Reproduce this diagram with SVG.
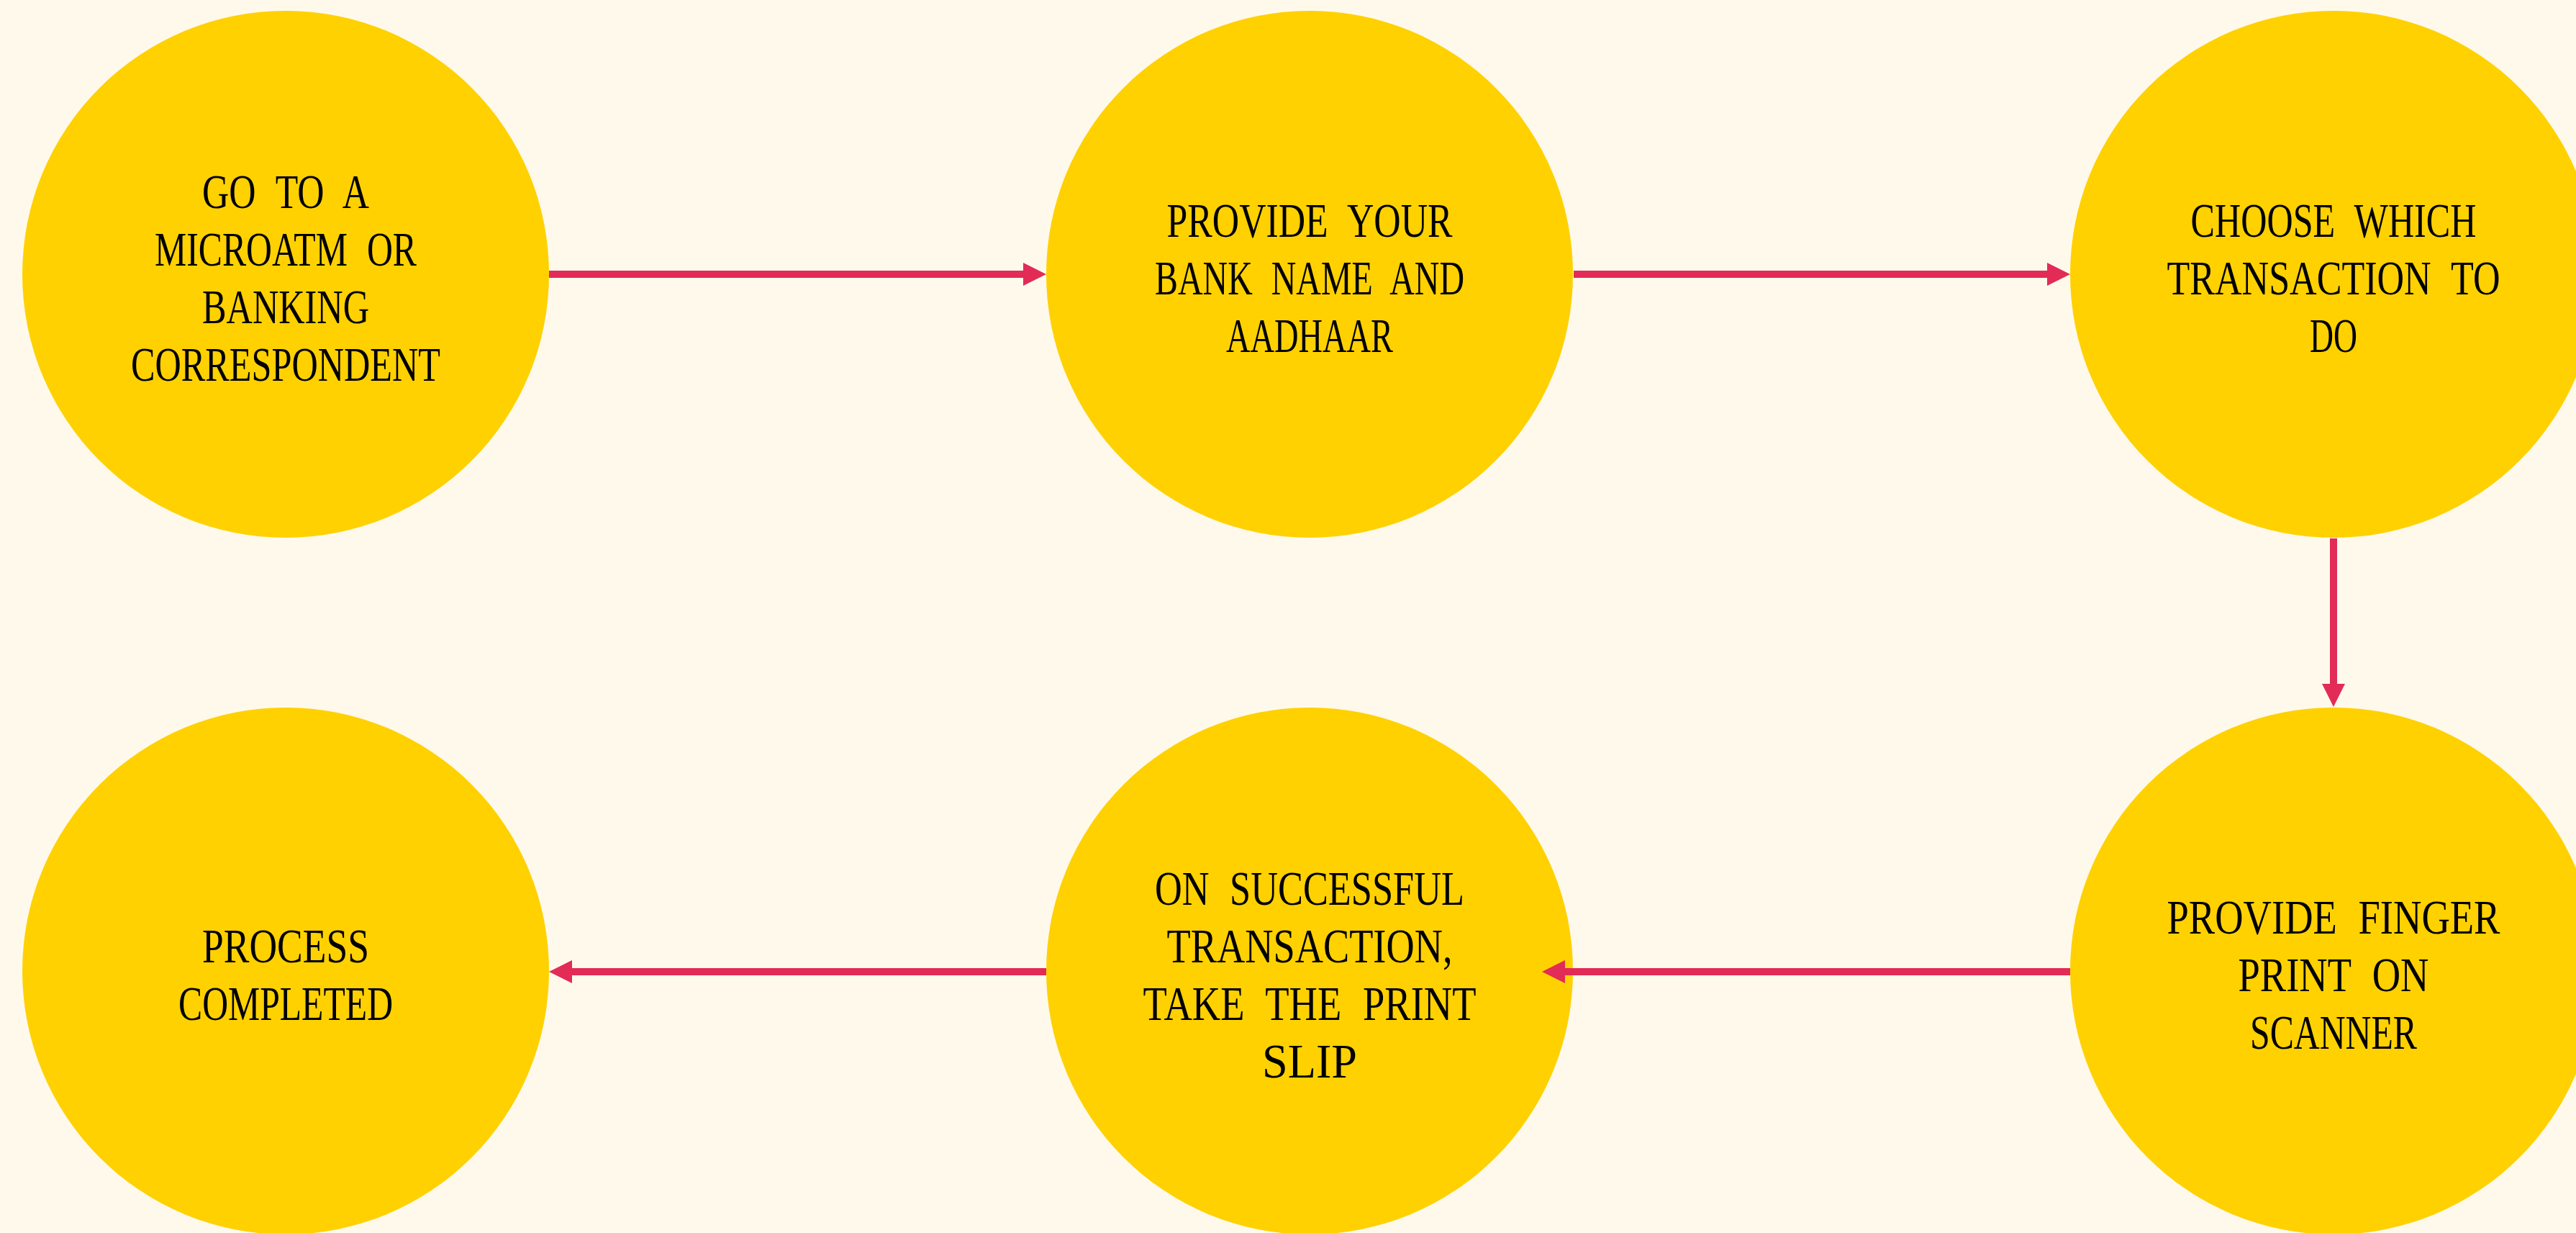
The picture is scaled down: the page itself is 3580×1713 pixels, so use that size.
<svg xmlns="http://www.w3.org/2000/svg" width="3580" height="1713" viewBox="0 0 3580 1713">
<style>
.bg{fill:#FFF9EC}
.node circle{fill:#FFD100}
.node text{font-family:"Liberation Serif","DejaVu Serif",serif;font-size:68px;word-spacing:20px;fill:#000;text-anchor:middle}
.conn path{stroke:#E22B56;stroke-width:10;fill:none}
</style>
<defs>
<marker id="ah" markerUnits="userSpaceOnUse" markerWidth="32" markerHeight="32" refX="0" refY="16" orient="auto" viewBox="0 0 32 32">
<path d="M0,0 L32,16 L0,32 Z" fill="#E22B56"/>
</marker>
</defs>
<rect class="bg" x="0" y="0" width="3580" height="1713"/>
<g id="n1" class="node">
<circle cx="397" cy="381" r="366"/>
<text x="397" y="289" textLength="232" lengthAdjust="spacingAndGlyphs">GO TO A</text>
<text x="397" y="369" textLength="364" lengthAdjust="spacingAndGlyphs">MICROATM OR</text>
<text x="397" y="449" textLength="232" lengthAdjust="spacingAndGlyphs">BANKING</text>
<text x="397" y="529" textLength="430" lengthAdjust="spacingAndGlyphs">CORRESPONDENT</text>
</g>
<g id="n2" class="node">
<circle cx="1820" cy="381" r="366"/>
<text x="1820" y="329" textLength="397" lengthAdjust="spacingAndGlyphs">PROVIDE YOUR</text>
<text x="1820" y="409" textLength="430" lengthAdjust="spacingAndGlyphs">BANK NAME AND</text>
<text x="1820" y="489" textLength="232" lengthAdjust="spacingAndGlyphs">AADHAAR</text>
</g>
<g id="n3" class="node">
<circle cx="3243" cy="381" r="366"/>
<text x="3243" y="329" textLength="397" lengthAdjust="spacingAndGlyphs">CHOOSE WHICH</text>
<text x="3243" y="409" textLength="463" lengthAdjust="spacingAndGlyphs">TRANSACTION TO</text>
<text x="3243" y="489" textLength="66" lengthAdjust="spacingAndGlyphs">DO</text>
</g>
<g id="n4" class="node">
<circle cx="3243" cy="1349" r="366"/>
<text x="3243" y="1297" textLength="463" lengthAdjust="spacingAndGlyphs">PROVIDE FINGER</text>
<text x="3243" y="1377" textLength="265" lengthAdjust="spacingAndGlyphs">PRINT ON</text>
<text x="3243" y="1457" textLength="232" lengthAdjust="spacingAndGlyphs">SCANNER</text>
</g>
<g id="n5" class="node">
<circle cx="1820" cy="1349" r="366"/>
<text x="1820" y="1257" textLength="430" lengthAdjust="spacingAndGlyphs">ON SUCCESSFUL</text>
<text x="1820" y="1337" textLength="397" lengthAdjust="spacingAndGlyphs">TRANSACTION,</text>
<text x="1820" y="1417" textLength="463" lengthAdjust="spacingAndGlyphs">TAKE THE PRINT</text>
<text x="1820" y="1497" textLength="132" lengthAdjust="spacingAndGlyphs">SLIP</text>
</g>
<g id="n6" class="node">
<circle cx="397" cy="1349" r="366"/>
<text x="397" y="1337" textLength="232" lengthAdjust="spacingAndGlyphs">PROCESS</text>
<text x="397" y="1417" textLength="298" lengthAdjust="spacingAndGlyphs">COMPLETED</text>
</g>
<g id="connectors" class="conn">
<path d="M763,381 H1422" marker-end="url(#ah)"/>
<path d="M2187,381 H2845" marker-end="url(#ah)"/>
<path d="M3243,748 V950" marker-end="url(#ah)"/>
<path d="M2877,1350 H2175" marker-end="url(#ah)"/>
<path d="M1454,1350 H795" marker-end="url(#ah)"/>
</g>
</svg>
